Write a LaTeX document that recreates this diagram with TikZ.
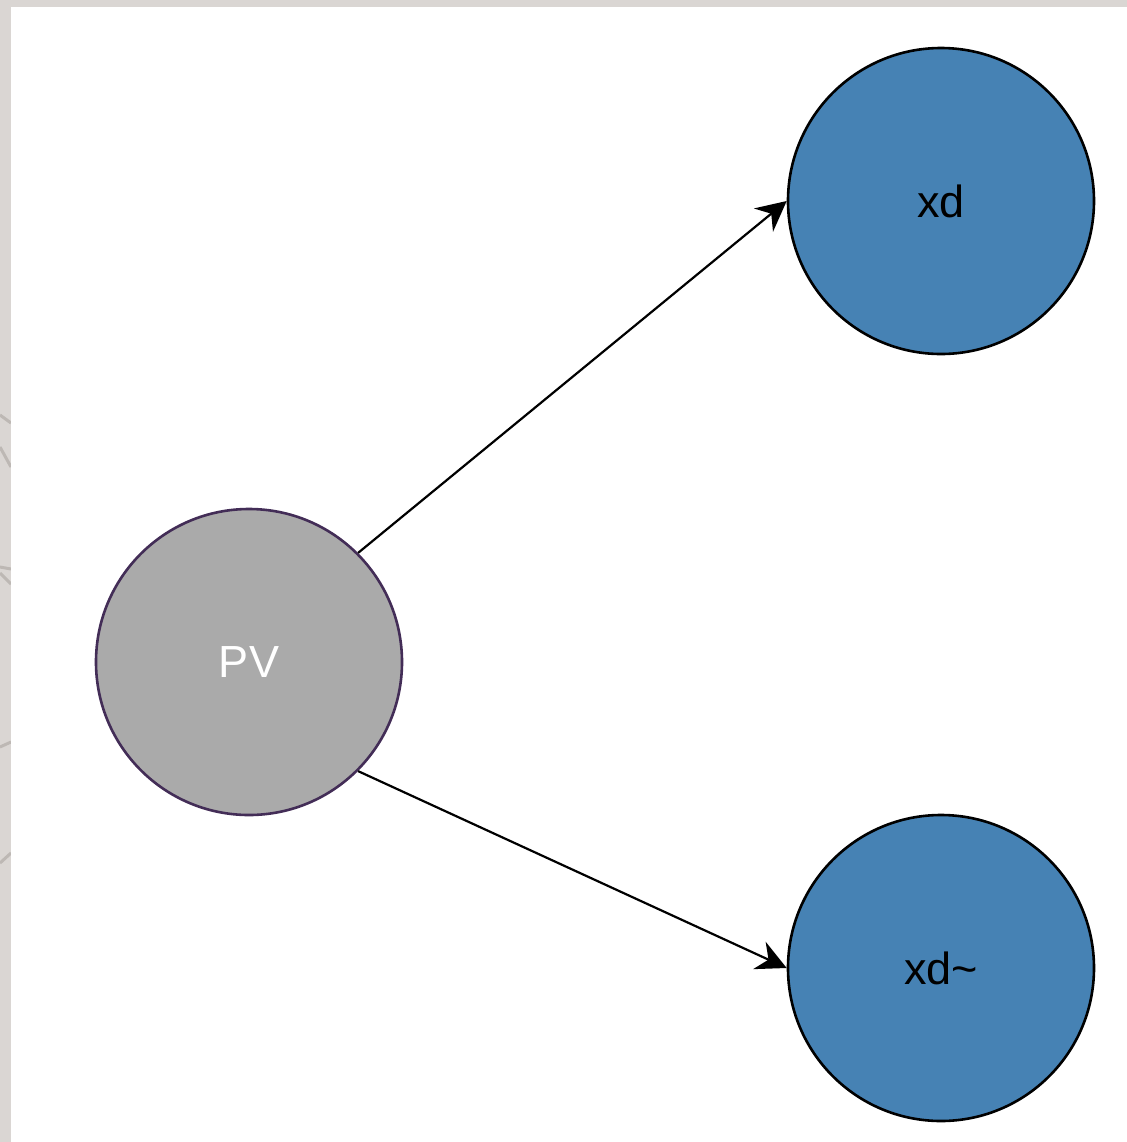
\documentclass[tikz,border=0pt]{standalone}
\usepackage{fontspec}
\setmainfont{Liberation Sans}
\usetikzlibrary{arrows.meta}
\definecolor{canvasgray}{HTML}{DAD6D3}
\definecolor{arcgray}{HTML}{BDB8B4}
\definecolor{pvfill}{HTML}{AAAAAA}
\definecolor{pvline}{HTML}{432D57}
\definecolor{xdfill}{HTML}{4682B4}
\begin{document}
\begin{tikzpicture}[x=0.5pt,y=-0.5pt,
  state/.style={circle, minimum size=153pt, inner sep=0pt, line width=1.3pt,
    font=\fontsize{22.5}{26}\selectfont},
  pvstate/.style={state, draw=pvline, fill=pvfill, text=white},
  xdstate/.style={state, draw=black, fill=xdfill, text=black},
  link/.style={draw=black, line width=1.1pt,
    -{Stealth[length=15pt, width=15pt, inset=5pt]}},
  arcpiece/.style={draw=arcgray, line width=1.5pt}]
  % canvas: grey frame on top and left, white drawing area
  \useasboundingbox (0,0) rectangle (1127,1142);
  \fill[canvasgray] (0,0) rectangle (1127,1142);
  % faint arcs of the backdrop showing in the left frame
  \draw[arcpiece] (0,415) -- (11,423);
  \draw[arcpiece] (0,447) -- (11,467);
  \draw[arcpiece] (0,567) -- (11,569);
  \draw[arcpiece] (0,573) -- (11,584);
  \draw[arcpiece] (0,747) -- (11,742);
  \draw[arcpiece] (0,863) -- (11,853);
  \fill[white] (11,7) rectangle (1127,1142);
  % nodes
  \node[pvstate] (pv) at (249,662) {PV};
  \node[xdstate] (xd) at (941,201) {xd};
  \node[xdstate] (xdt) at (941,968) {xd\textasciitilde};
  % connectors
  \draw[link] (pv.45) -- (xd.west);
  \draw[link] (pv.-45) -- (xdt.west);
\end{tikzpicture}
\end{document}
